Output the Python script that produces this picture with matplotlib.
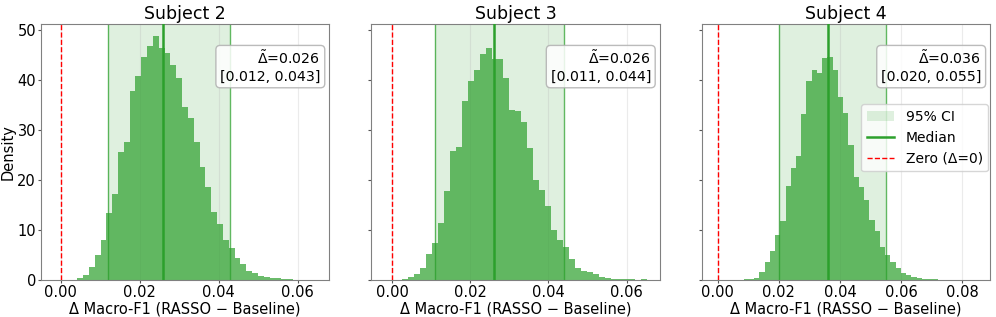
import numpy as np
import matplotlib
matplotlib.use("Agg")
import matplotlib.pyplot as plt

# bootstrap distribution of delta macro-F1
subjects = ["Subject 2", "Subject 3", "Subject 4"]
medians = [0.026, 0.026, 0.036]
ci_low = [0.012, 0.011, 0.020]
ci_high = [0.043, 0.044, 0.055]

bin_start = [-0.0017, -0.0020, -0.0018]
bin_width = [0.001476, 0.001525, 0.001715]

density_s2 = [0, 0, 0, 0.05, 0.4, 1.06, 2.5, 5.0, 7.9, 13.3, 17.2, 25.5, 27.6,
              37.8, 40.8, 44.6, 46.8, 48.7, 46.4, 45.4, 43.0, 40.3, 34.5, 32.3,
              27.6, 22.5, 18.5, 13.5, 11.2, 8.0, 6.4, 4.4, 3.1, 1.8, 1.3, 0.8,
              0.5, 0.3, 0.3, 0.15, 0.1, 0.05, 0.05, 0.02, 0.05]
density_s3 = [0.03, 0, 0.07, 0.27, 0.53, 1.2, 2.4, 5.2, 7.4, 11.4, 17.8, 25.8,
              26.6, 35.7, 39.8, 42.0, 45.2, 46.4, 44.2, 44.2, 40.4, 33.9, 33.7,
              31.5, 26.3, 19.9, 17.9, 14.8, 9.9, 8.0, 6.6, 4.2, 2.4, 1.8, 1.5,
              1.1, 0.6, 0.4, 0.27, 0.2, 0.13, 0.13, 0.07, 0.2]
density_s4 = [0, 0, 0, 0, 0.02, 0.05, 0.13, 0.27, 0.46, 1.6, 3.6, 5.8, 9.0,
              11.7, 18.7, 22.4, 24.8, 33.2, 39.7, 42.0, 41.4, 44.3, 44.5, 42.0,
              36.5, 33.3, 27.0, 20.5, 18.5, 16.0, 12.0, 9.7, 6.6, 5.0, 3.6,
              2.3, 1.4, 0.9, 0.5, 0.3, 0.2, 0.13, 0.1, 0.08, 0.05, 0.03, 0.02,
              0, 0, 0.02]
densities = [density_s2, density_s3, density_s4]

x_limits = [(-0.005, 0.068), (-0.0053, 0.0684), (-0.0052, 0.0891)]
x_ticks = [[0.00, 0.02, 0.04, 0.06], [0.00, 0.02, 0.04, 0.06],
           [0.00, 0.02, 0.04, 0.06, 0.08]]

green = "tab:green"

fig, axes = plt.subplots(1, 3, figsize=(9.96, 3.17), dpi=100, sharey=True)
fig.subplots_adjust(left=0.041, right=0.994, bottom=0.117, top=0.924,
                    wspace=0.146)

for i, ax in enumerate(axes):
    heights = np.array(densities[i])
    edges = bin_start[i] + bin_width[i] * np.arange(len(heights))

    ax.axvspan(ci_low[i], ci_high[i], color=green, alpha=0.15, lw=0,
               label="95% CI", zorder=0)
    ax.bar(edges, heights, width=bin_width[i], align="edge", color=green,
           alpha=0.7, linewidth=0, zorder=1)
    ax.axvline(ci_low[i], color=green, lw=1.0, alpha=0.75, zorder=2)
    ax.axvline(ci_high[i], color=green, lw=1.0, alpha=0.75, zorder=2)
    ax.axvline(medians[i], color=green, lw=1.8, label="Median", zorder=3)
    ax.axvline(0, color="red", ls="--", lw=1.0, label="Zero (Δ=0)", zorder=3)

    ax.text(0.97, 0.90,
            f"$\\tilde{{\\Delta}}$={medians[i]:.3f}\n[{ci_low[i]:.3f}, {ci_high[i]:.3f}]",
            transform=ax.transAxes, ha="right", va="top", fontsize=10.2,
            bbox=dict(boxstyle="round,pad=0.3", facecolor="white",
                      edgecolor="#b0b0b0", alpha=0.85), zorder=5)

    ax.set_xlim(*x_limits[i])
    ax.set_ylim(0, 51.1)
    ax.set_xticks(x_ticks[i])
    ax.xaxis.set_major_formatter(matplotlib.ticker.FormatStrFormatter("%.2f"))
    ax.set_yticks([0, 10, 20, 30, 40, 50])
    ax.grid(axis="x", alpha=0.25)
    ax.set_axisbelow(True)
    ax.tick_params(labelsize=10.5, colors="#555555", labelcolor="black",
                   length=2, pad=1.5)
    for s in ax.spines.values():
        s.set_color("#808080")
    ax.set_title(subjects[i], fontsize=12.5, pad=4)
    ax.set_xlabel("Δ Macro-F1 (RASSO − Baseline)", fontsize=10.5, labelpad=1)

axes[0].set_ylabel("Density", fontsize=10.5, labelpad=1)
axes[2].legend(loc="center right", bbox_to_anchor=(1.018, 0.555), fontsize=10,
               framealpha=0.8)

fig.savefig("out.png", dpi=100)
